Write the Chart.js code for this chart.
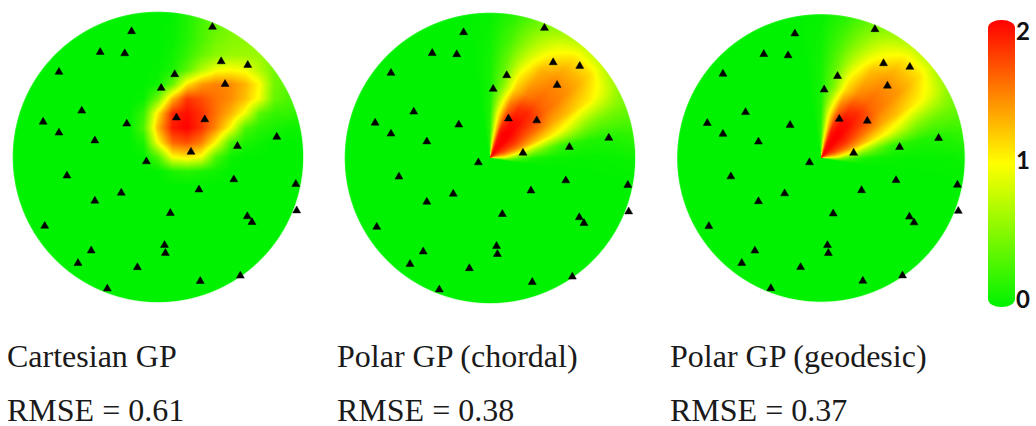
<!DOCTYPE html>
<html>
<head>
<meta charset="utf-8">
<title>Cartesian vs polar GP</title>
<script src="https://cdn.jsdelivr.net/npm/chart.js"></script>
<style>
  body { margin: 0; background: #fff; }
  .wrap { position: relative; width: 1036px; height: 426px; overflow: hidden; }
  .panel { position: absolute; width: 320px; height: 320px; }
  .caption { position: absolute; font-family: "Liberation Serif", serif; font-size: 32px; line-height: 32px; color: #1a1a1a; white-space: nowrap; }
  .cbar { position: absolute; left: 988px; top: 20px; width: 27px; height: 287px; border-radius: 13px / 8px;
          background: linear-gradient(to bottom, #ff0000 0%, #ffff00 50%, #00f200 100%); }
  .tick { position: absolute; left: 1016px; font-family: Lato, sans-serif; font-weight: bold; font-size: 24px; line-height: 24px; color: #111; }
</style>
</head>
<body>
<div class="wrap">
  <div class="panel" id="p1"><canvas id="c1"></canvas></div>
  <div class="panel" id="p2"><canvas id="c2"></canvas></div>
  <div class="panel" id="p3"><canvas id="c3"></canvas></div>
  <div class="cbar"></div>
  <div id="ticks"></div>
  <div id="captions"></div>
</div>
<script>
// sensor locations (unit disk coords), same in every panel
const sensorX = [-0.182, 0.375, -0.398, -0.229, -0.682, 0.435, 0.618, 0.115, 0.022, 0.462,
                 -0.525, -0.791, 0.127, 0.322, -0.215, -0.682, -0.435, 0.818, 0.547, 0.227,
                 -0.080, -0.627, 0.522, 0.949, 0.282, -0.253, -0.435, 0.085, 0.955, 0.615,
                 0.647, -0.780, 0.045, 0.051, -0.460, -0.551, -0.142, 0.567, 0.291, -0.349];
const sensorY = [0.865, 0.895, 0.722, 0.713, 0.585, 0.658, 0.633, 0.569, 0.475, 0.502,
                 0.318, 0.242, 0.271, 0.258, 0.229, 0.167, 0.113, 0.138, 0.075, 0.035,
                 -0.031, -0.129, -0.155, -0.187, -0.225, -0.247, -0.302, -0.387, -0.369, -0.409,
                 -0.449, -0.475, -0.607, -0.662, -0.645, -0.731, -0.760, -0.818, -0.855, -0.907];

// Cartesian GP prediction, read on a grid (columns fieldX, rows fieldY); 0 elsewhere
const fieldX = [-0.2, -0.1, 0, 0.1, 0.2, 0.3, 0.4, 0.5, 0.6, 0.7, 0.8, 0.9, 1.0];
const fieldY = [1.0, 0.9, 0.8, 0.7, 0.6, 0.5, 0.4, 0.3, 0.2, 0.1, 0, -0.1, -0.2];
const cartesianField = [
  [0, 0, 0, 0,    0.12, 0.25, 0.38, 0.45, 0.5,  0.5,  0.5,  0.5,  0.5],
  [0, 0, 0, 0.02, 0.12, 0.28, 0.4,  0.48, 0.5,  0.5,  0.5,  0.5,  0.5],
  [0, 0, 0, 0.03, 0.14, 0.3,  0.45, 0.52, 0.55, 0.55, 0.5,  0.45, 0.45],
  [0, 0, 0, 0.06, 0.2,  0.4,  0.55, 0.6,  0.62, 0.6,  0.5,  0.4,  0.35],
  [0, 0, 0.02, 0.1, 0.35, 0.7, 0.95, 1.0,  0.95, 0.7,  0.45, 0.35, 0.3],
  [0, 0, 0.05, 0.4, 1.1,  1.4,  1.5,  1.45, 1.3,  1.0,  0.45, 0.35, 0.25],
  [0, 0.02, 0.45, 1.3, 1.8, 1.7, 1.55, 1.45, 1.25, 0.95, 0.4, 0.3, 0.25],
  [0, 0.2, 1.1, 1.85, 1.95, 1.8, 1.55, 1.3, 0.95, 0.35, 0.2, 0.2, 0.15],
  [0, 0.3, 1.3, 1.9, 2.0,  1.8,  1.45, 1.0,  0.3,  0.15, 0.1,  0.05, 0.05],
  [0, 0.1, 1.0, 1.6, 1.7,  1.5,  1.0,  0.3,  0.1,  0.05, 0,    0,    0],
  [0, 0, 0.3, 1.0,  1.1,  0.95, 0.3,  0.05, 0,    0,    0,    0,    0],
  [0, 0, 0,   0.1,  0.15, 0.1,  0.05, 0,    0,    0,    0,    0,    0],
  [0, 0, 0,   0,    0,    0,    0,    0,    0,    0,    0,    0,    0]
];

// Polar GP predictions, read on a polar grid (columns polarTheta in degrees, rows polarR)
const polarTheta = [-10, 0, 10, 20, 30, 40, 50, 60, 70, 80, 90, 100];
const polarR = [0, 0.1, 0.2, 0.3, 0.4, 0.5, 0.6, 0.7, 0.8, 0.9, 1.0];
const chordalField = [
  [0, 0.7,  1.2,  1.5,  1.75, 1.9,  2.0,  2.0,  1.9,  1.3,  0.3,  0],
  [0, 0.8,  1.3,  1.6,  1.8,  1.9,  2.0,  2.0,  1.9,  1.2,  0.2,  0],
  [0, 0.3,  1.0,  1.5,  1.75, 1.9,  2.0,  2.0,  1.9,  1.05, 0.15, 0],
  [0, 0.1,  0.65, 1.3,  1.6,  1.8,  1.95, 1.95, 1.7,  1.0,  0.12, 0],
  [0, 0.05, 0.4,  1.12, 1.5,  1.75, 1.85, 1.78, 1.48, 0.76, 0.1,  0],
  [0, 0.03, 0.2,  0.98, 1.35, 1.58, 1.62, 1.5,  1.18, 0.5,  0.08, 0],
  [0, 0.02, 0.15, 0.78, 1.27, 1.5,  1.52, 1.38, 1.05, 0.42, 0.08, 0],
  [0, 0.02, 0.12, 0.58, 1.15, 1.42, 1.45, 1.28, 0.85, 0.38, 0.07, 0],
  [0, 0.02, 0.12, 0.48, 1.05, 1.3,  1.3,  1.05, 0.68, 0.3,  0.05, 0],
  [0, 0.03, 0.15, 0.45, 0.88, 1.13, 1.1,  0.85, 0.55, 0.24, 0.04, 0],
  [0, 0.05, 0.2,  0.42, 0.62, 0.78, 0.78, 0.62, 0.42, 0.15, 0.02, 0]
];
const geodesicField = [
  [0, 0.7,  1.2,  1.5,  1.75, 1.9,  2.0,  2.0,  1.9,  1.3,  0.3,  0],
  [0, 0.8,  1.3,  1.6,  1.8,  1.9,  2.0,  2.0,  1.9,  1.2,  0.2,  0],
  [0, 0.3,  1.0,  1.5,  1.75, 1.9,  2.0,  2.0,  1.88, 1.05, 0.15, 0],
  [0, 0.1,  0.65, 1.3,  1.6,  1.8,  1.95, 1.95, 1.7,  1.0,  0.12, 0],
  [0, 0.05, 0.4,  1.1,  1.48, 1.73, 1.82, 1.75, 1.45, 0.74, 0.1,  0],
  [0, 0.03, 0.2,  0.95, 1.33, 1.55, 1.6,  1.48, 1.15, 0.48, 0.08, 0],
  [0, 0.02, 0.15, 0.76, 1.25, 1.47, 1.5,  1.35, 1.02, 0.42, 0.08, 0],
  [0, 0.02, 0.12, 0.56, 1.12, 1.4,  1.42, 1.25, 0.82, 0.37, 0.07, 0],
  [0, 0.02, 0.12, 0.46, 1.02, 1.27, 1.27, 1.02, 0.65, 0.3,  0.05, 0],
  [0, 0.03, 0.15, 0.43, 0.85, 1.1,  1.07, 0.82, 0.52, 0.23, 0.04, 0],
  [0, 0.05, 0.2,  0.4,  0.6,  0.76, 0.76, 0.6,  0.4,  0.15, 0.02, 0]
];

const colourTicks = [2, 1, 0];
const captionTitles = ['Cartesian GP', 'Polar GP (chordal)', 'Polar GP (geodesic)'];
const captionRmse = [0.61, 0.38, 0.37];

// lookup with bilinear interpolation, clamped to the grid borders
function gridValue(grid, colAxis, rowAxis, u, v) {
  const nc = colAxis.length - 1, nr = rowAxis.length - 1;
  let fi = (u - colAxis[0]) / (colAxis[nc] - colAxis[0]) * nc;
  let fj = (v - rowAxis[0]) / (rowAxis[nr] - rowAxis[0]) * nr;
  fi = Math.max(0, Math.min(nc, fi));
  fj = Math.max(0, Math.min(nr, fj));
  const i0 = Math.floor(fi), j0 = Math.floor(fj);
  const i1 = Math.min(i0 + 1, nc), j1 = Math.min(j0 + 1, nr);
  const a = fi - i0, b = fj - j0;
  const top = grid[j0][i0] * (1 - a) + grid[j0][i1] * a;
  const bot = grid[j1][i0] * (1 - a) + grid[j1][i1] * a;
  return top * (1 - b) + bot * b;
}

function cartesianAt(x, y) { return gridValue(cartesianField, fieldX, fieldY, x, y); }
function polarAt(field) {
  return (x, y) => {
    const r = Math.sqrt(x * x + y * y);
    const th = Math.atan2(y, x) * 180 / Math.PI;
    return gridValue(field, polarTheta, polarR, th, r);
  };
}

// green (0) -> yellow (1) -> red (2)
function colour(v) {
  v = Math.max(0, Math.min(2, v));
  if (v <= 1) return [255 * v, 242 + 13 * v, 0];
  return [255, 255 * (2 - v), 0];
}

function fieldPlugin(sample, radiusPx) {
  return {
    id: 'field',
    beforeDatasetsDraw(chart) {
      const xs = chart.scales.x, ys = chart.scales.y, a = chart.chartArea;
      const w = Math.round(a.right - a.left), h = Math.round(a.bottom - a.top);
      const off = document.createElement('canvas');
      off.width = w; off.height = h;
      const octx = off.getContext('2d');
      const img = octx.createImageData(w, h);
      for (let j = 0; j < h; j++) {
        for (let i = 0; i < w; i++) {
          const x = xs.getValueForPixel(a.left + i + 0.5);
          const y = ys.getValueForPixel(a.top + j + 0.5);
          const r = Math.sqrt(x * x + y * y);
          const edge = (1 - r) * radiusPx + 0.5;
          if (edge <= 0) continue;
          const c = colour(sample(x, y));
          const k = (j * w + i) * 4;
          img.data[k] = c[0]; img.data[k + 1] = c[1]; img.data[k + 2] = c[2];
          img.data[k + 3] = 255 * Math.min(1, edge);
        }
      }
      octx.putImageData(img, 0, 0);
      chart.ctx.drawImage(off, a.left, a.top);
    }
  };
}

function makePanel(id, canvasId, cx, cy, radiusPx, sample) {
  const box = document.getElementById(id);
  box.style.left = (cx - 160) + 'px';
  box.style.top = (cy - 160) + 'px';
  const span = 160 / radiusPx;
  return new Chart(document.getElementById(canvasId), {
    type: 'scatter',
    data: {
      datasets: [{
        data: sensorX.map((x, i) => ({ x: x, y: sensorY[i] })),
        pointStyle: 'triangle',
        pointRadius: 4.6,
        backgroundColor: '#000',
        borderColor: '#000',
        borderWidth: 0.5,
        clip: false
      }]
    },
    options: {
      responsive: true,
      maintainAspectRatio: false,
      animation: false,
      devicePixelRatio: 1,
      events: [],
      layout: { padding: 0 },
      plugins: { legend: { display: false }, tooltip: { enabled: false } },
      scales: {
        x: { type: 'linear', min: -span, max: span, display: false },
        y: { type: 'linear', min: -span, max: span, display: false }
      }
    },
    plugins: [fieldPlugin(sample, radiusPx)]
  });
}

makePanel('p1', 'c1', 158, 157, 150, cartesianAt);
makePanel('p2', 'c2', 490, 157.5, 150, polarAt(chordalField));
makePanel('p3', 'c3', 821, 157.5, 148.5, polarAt(geodesicField));

// colour bar labels
const tickTop = { 2: 19, 1: 148, 0: 287 };
const ticks = document.getElementById('ticks');
colourTicks.forEach(t => {
  const s = document.createElement('div');
  s.className = 'tick';
  s.style.top = tickTop[t] + 'px';
  s.textContent = String(t);
  ticks.appendChild(s);
});

// captions under the panels
const captionLeft = [7, 337, 670];
const caps = document.getElementById('captions');
captionTitles.forEach((t, i) => {
  const a = document.createElement('div');
  a.className = 'caption';
  a.style.left = captionLeft[i] + 'px';
  a.style.top = '340px';
  a.textContent = t;
  caps.appendChild(a);
  const b = document.createElement('div');
  b.className = 'caption';
  b.style.left = captionLeft[i] + 'px';
  b.style.top = '394px';
  b.textContent = 'RMSE = ' + captionRmse[i].toFixed(2);
  caps.appendChild(b);
});
</script>
</body>
</html>
